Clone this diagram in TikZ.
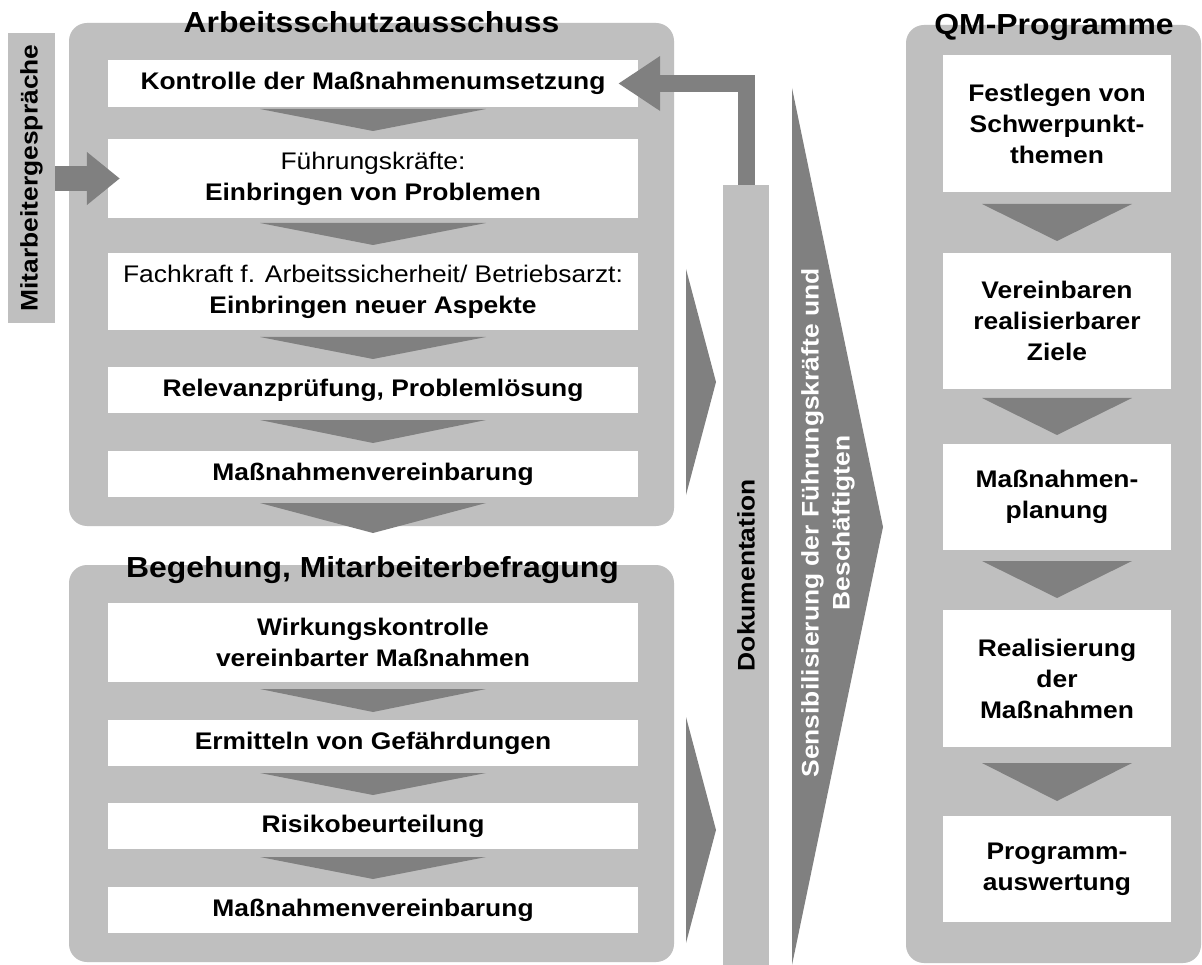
\documentclass[tikz,border=0pt]{standalone}
\usepackage{fontspec}
\setmainfont{Liberation Sans}[FakeStretch=1.1]
\usetikzlibrary{arrows.meta,calc}
\definecolor{lgray}{HTML}{BFBFBF}
\definecolor{dgray}{HTML}{808080}
\newcommand\bxfont{\fontsize{24}{31}\selectfont\bfseries}
\newcommand\ttlfont{\fontsize{29}{34}\selectfont\bfseries}
\newcommand\chev[4]{\fill[dgray] (#1-#3,#2) -- (#1+#3,#2) -- (#1,#2+#4) -- cycle;}
\begin{document}
\begin{tikzpicture}[x=1pt,y=-1pt,
  cont/.style={fill=lgray, rounded corners=18pt, inner sep=0pt},
  wbox/.style={fill=white, inner sep=0pt, align=center, font=\bxfont},
  abox/.style={wbox, minimum width=530pt},
  qbox/.style={wbox, minimum width=228pt},
  ttl/.style={anchor=base, font=\ttlfont, inner sep=0pt},
  bar/.style={fill=lgray, inner sep=0pt},
  vtext/.style={rotate=90, font=\bxfont, align=center, inner sep=0pt}]
\fill[white] (0,0) rectangle (1202,965);
\useasboundingbox (0,0) rectangle (1202,965);
% containers
\node[cont, minimum width=605pt, minimum height=503pt] (AS) at (371.5,274.5) {};
\node[cont, minimum width=605pt, minimum height=397pt] (BG) at (371.5,763.5) {};
\node[cont, minimum width=295pt, minimum height=938pt] (QM) at (1053.5,494) {};
% titles
\node[ttl] (ASt) at (371.5,33) {Arbeitsschutzausschuss};
\node[ttl] (BGt) at (372.5,577) {Begehung, Mitarbeiterbefragung};
\node[ttl] (QMt) at (1054,35) {QM-Programme};
% Arbeitsschutzausschuss boxes
\node[abox, minimum height=47pt] (A1) at (373,83.5) {Kontrolle der Maßnahmenumsetzung};
\node[abox, minimum height=79pt] (A2) at (373,178.5) {\mdseries Führungskräfte:\\Einbringen von Problemen};
\node[abox, minimum height=77pt] (A3) at (373,291.5) {\mdseries Fachkraft f. Arbeitssicherheit/ Betriebsarzt:\\Einbringen neuer Aspekte};
\node[abox, minimum height=46pt] (A4) at (373,390) {Relevanzprüfung, Problemlösung};
\node[abox, minimum height=46pt] (A5) at (373,474) {Maßnahmenvereinbarung};
% Begehung boxes
\node[abox, minimum height=79pt] (B1) at (373,642.5) {Wirkungskontrolle\\vereinbarter Maßnahmen};
\node[abox, minimum height=46pt] (B2) at (373,743) {Ermitteln von Gefährdungen};
\node[abox, minimum height=46pt] (B3) at (373,826) {Risikobeurteilung};
\node[abox, minimum height=46pt] (B4) at (373,910) {Maßnahmenvereinbarung};
% QM boxes
\node[qbox, minimum height=137pt] (Q1) at (1057,123.5) {Festlegen von\\Schwerpunkt-\\themen};
\node[qbox, minimum height=136pt] (Q2) at (1057,321) {Vereinbaren\\realisierbarer\\Ziele};
\node[qbox, minimum height=106pt] (Q3) at (1057,497) {Maßnahmen-\\planung};
\node[qbox, minimum height=137pt] (Q4) at (1057,678.5) {Realisierung\\der\\Maßnahmen};
\node[qbox, minimum height=106pt] (Q5) at (1057,869) {Programm-\\auswertung};
% chevrons
\chev{373}{109}{113}{22}
\chev{373}{223}{113}{22}
\chev{373}{337}{113}{22}
\chev{373}{420}{113}{23}
\chev{373}{503}{113}{30}
\chev{373}{689}{113}{23}
\chev{373}{773}{113}{22}
\chev{373}{857}{113}{22}
\chev{1057}{204}{75}{37}
\chev{1057}{398}{75}{37}
\chev{1057}{561}{75}{37}
\chev{1057}{763}{75}{38}
% right-pointing triangles
\fill[dgray] (686,269) -- (716,382) -- (686,495) -- cycle;
\fill[dgray] (686,717) -- (716,830) -- (686,943) -- cycle;
% side bars
\node[bar, minimum width=47pt, minimum height=290pt] (MG) at (31.5,178) {};
\node[vtext] (MGt) at (MG.center) {Mitarbeitergespräche};
\node[bar, minimum width=46pt, minimum height=780pt] (DOC) at (746,575) {};
\node[vtext] (DOCt) at (DOC.center) {Dokumentation};
% big arrow
\fill[dgray] (792,88) -- (883,527) -- (792,965) -- cycle;
\node[vtext, text=white] (SEN) at (828,523) {Sensibilisierung der Führungskräfte und\\Beschäftigten};
% arrows
\draw[dgray, line width=25pt, -{Triangle[length=33pt,width=51pt]}] (MG.east |- A2.west) -- ([xshift=12pt]A2.west);
\draw[dgray, line width=17pt, line join=miter, -{Triangle[length=42pt,width=52pt]}] (DOC.north) |- ([xshift=-20pt]A1.east);
\end{tikzpicture}
\end{document}
